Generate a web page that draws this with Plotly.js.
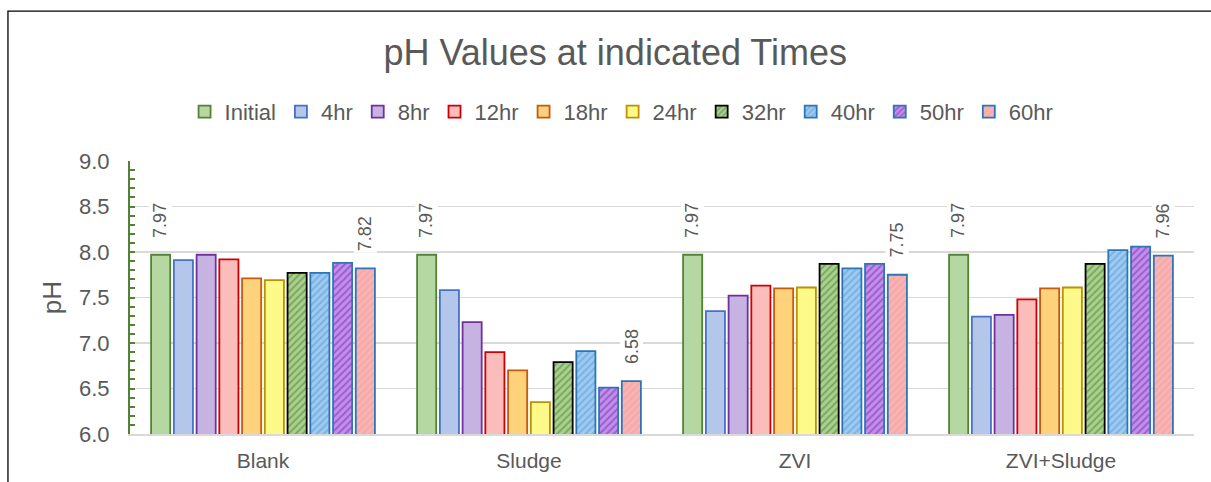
<!DOCTYPE html>
<html>
<head>
<meta charset="utf-8">
<script src="https://cdn.plot.ly/plotly-3.0.1.min.js"></script>
<style>
  html, body { margin: 0; padding: 0; background: #fff; }
  #chart { width: 1211px; height: 482px; }
</style>
</head>
<body>
<div id="chart"></div>
<script>
// ---- data ----
const categories = ["Blank", "Sludge", "ZVI", "ZVI+Sludge"];
const seriesNames = ["Initial", "4hr", "8hr", "12hr", "18hr", "24hr", "32hr", "40hr", "50hr", "60hr"];
const initial = [7.97, 7.97, 7.97, 7.97];
const hr4  = [7.91, 7.58, 7.35, 7.29];
const hr8  = [7.97, 7.23, 7.52, 7.31];
const hr12 = [7.92, 6.90, 7.63, 7.48];
const hr18 = [7.71, 6.70, 7.60, 7.60];
const hr24 = [7.69, 6.35, 7.61, 7.61];
const hr32 = [7.77, 6.79, 7.87, 7.87];
const hr40 = [7.77, 6.91, 7.82, 8.02];
const hr50 = [7.88, 6.51, 7.87, 8.06];
const hr60 = [7.82, 6.58, 7.75, 7.96];
const seriesValues = [initial, hr4, hr8, hr12, hr18, hr24, hr32, hr40, hr50, hr60];
const yTickVals = [6.0, 6.5, 7.0, 7.5, 8.0, 8.5, 9.0];
const yTickText = ["6.0", "6.5", "7.0", "7.5", "8.0", "8.5", "9.0"];

// ---- styles ----
const styles = [
  {fill: "#b5d8a2", line: "#548235"},
  {fill: "#b4c6ea", line: "#4472c4"},
  {fill: "#c6b3e2", line: "#7030a0"},
  {fill: "#fbbcbc", line: "#d00000"},
  {fill: "#fdd27a", line: "#c55a11"},
  {fill: "#fdfa8a", line: "#bf9000"},
  {fill: "#a9d18e", line: "#000000", fg: "#4f7a2e"},
  {fill: "#9ccbf2", line: "#2e75b6", fg: "#5b95cf"},
  {fill: "#c38ef0", line: "#2e75b6", fg: "#7030a0"},
  {fill: "#f8a9a9", line: "#2e75b6", fg: "#f5c6c6"}
];

const bargap = 0.145;
const bargroupgap = 0.16;
const gray = "#595959";
const font = "Liberation Sans, Arial, sans-serif";

const traces = seriesNames.map((name, k) => {
  const s = styles[k];
  const marker = {color: s.fill, line: {color: s.line, width: 1.8}};
  if (s.fg) {
    marker.pattern = {shape: "/", fgcolor: s.fg, bgcolor: s.fill, size: 5, solidity: 0.4, fillmode: "overlay"};
  }
  return {
    type: "bar",
    name: name,
    x: categories,
    y: seriesValues[k],
    marker: marker,
    hoverinfo: "x+y+name"
  };
});

// data labels for first and last series (rotated, white background)
const n = seriesNames.length;
const slot = (1 - bargap) / n;
const annotations = [];
[0, n - 1].forEach(k => {
  categories.forEach((c, i) => {
    annotations.push({
      x: i + (k + 0.5 - n / 2) * slot,
      y: seriesValues[k][i],
      xref: "x", yref: "y",
      text: seriesValues[k][i].toFixed(2),
      showarrow: false,
      textangle: -90,
      yanchor: "bottom",
      yshift: 15,
      bgcolor: "#ffffff",
      borderpad: 1,
      font: {family: font, size: 18, color: gray}
    });
  });
});

const layout = {
  width: 1211,
  height: 482,
  paper_bgcolor: "#ffffff",
  plot_bgcolor: "#ffffff",
  margin: {l: 130, r: 17, t: 161, b: 48},
  font: {family: font, color: gray},
  title: {
    text: "pH Values at indicated Times",
    font: {family: font, size: 36, color: gray},
    x: 0.508, xanchor: "center",
    y: 0.892, yanchor: "middle", yref: "container"
  },
  barmode: "group",
  bargap: bargap,
  bargroupgap: bargroupgap,
  showlegend: true,
  legend: {
    orientation: "h",
    x: 0.462, xanchor: "center",
    y: 1.18, yanchor: "middle",
    font: {family: font, size: 22, color: gray},
    itemwidth: 30,
    tracegroupgap: 0,
    traceorder: "normal"
  },
  xaxis: {
    type: "category",
    showline: true,
    linecolor: "#d9d9d9",
    linewidth: 1.5,
    ticks: "",
    tickfont: {family: font, size: 21, color: gray},
    ticklabelstandoff: 7,
    showgrid: false,
    zeroline: false
  },
  yaxis: {
    range: [6.0, 9.0],
    tickvals: yTickVals,
    ticktext: yTickText,
    tickfont: {family: font, size: 22, color: gray},
    ticks: "inside",
    ticklen: 5,
    tickwidth: 2,
    tickcolor: "#548235",
    ticklabelstandoff: 14,
    showline: true,
    linecolor: "#548235",
    linewidth: 2,
    showgrid: true,
    gridcolor: "#d9d9d9",
    gridwidth: 1.5,
    zeroline: false,
    minor: {dtick: 0.1, ticks: "inside", ticklen: 5, tickwidth: 2, tickcolor: "#548235", showgrid: false},
    title: {text: "pH", font: {family: font, size: 26, color: gray}, standoff: 10}
  },
  annotations: annotations,
  shapes: [{
    type: "rect", xref: "paper", yref: "paper",
    x0: -0.1147, x1: 1.1, y0: -0.5, y1: 1.549,
    line: {color: "#000000", width: 1.3},
    fillcolor: "rgba(0,0,0,0)",
    layer: "below"
  }]
};

Plotly.newPlot("chart", traces, layout, {displayModeBar: false, staticPlot: true});
</script>
</body>
</html>
